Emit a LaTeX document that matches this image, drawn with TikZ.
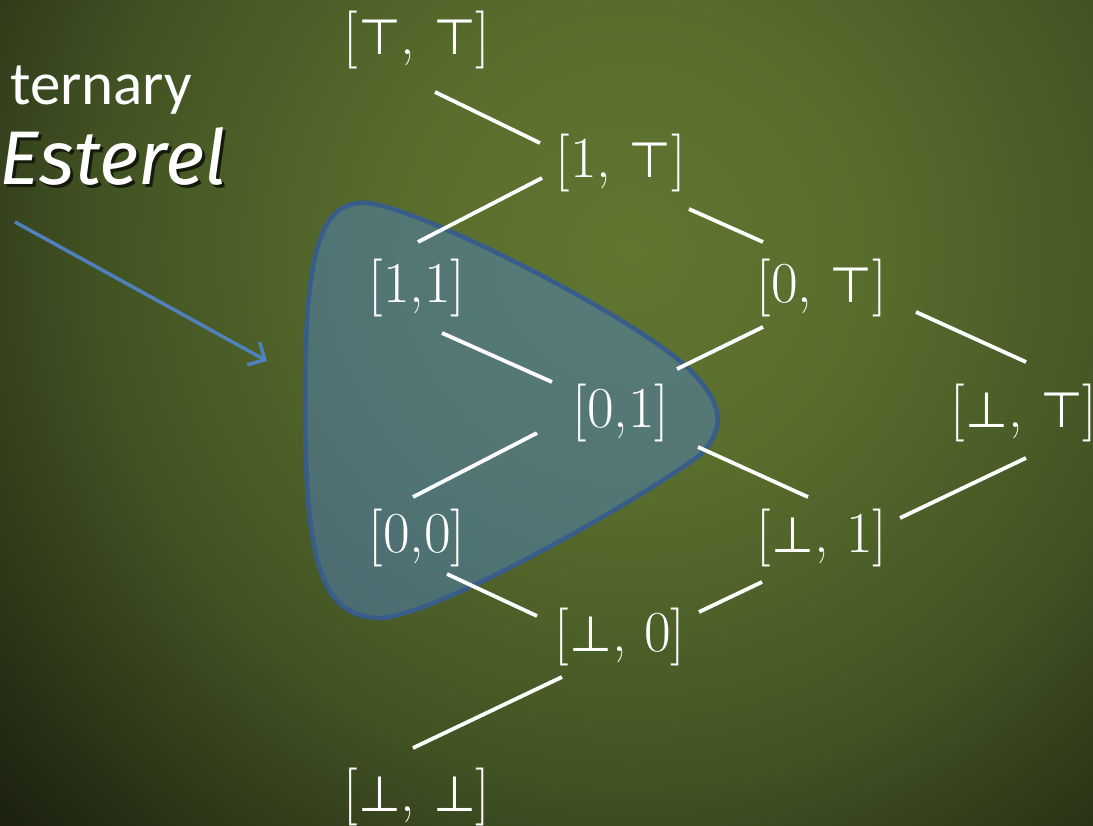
\documentclass[tikz,border=0pt]{standalone}
\usepackage{fontspec}
\newfontfamily\calfont{Carlito}
\newfontfamily\handfont{Fira Sans}
\newfontfamily\symfont{DejaVu Sans}[Scale=0.85]
\newcommand{\Tp}{{\symfont ⊤}}
\newcommand{\Bt}{{\symfont ⊥}}
\usetikzlibrary{arrows.meta,calc}
\definecolor{bgA}{RGB}{98,118,50}
\definecolor{bgB}{RGB}{88,108,45}
\definecolor{bgC}{RGB}{66,83,35}
\definecolor{bgD}{RGB}{24,28,14}
\definecolor{blobfill}{RGB}{79,129,189}
\definecolor{blobline}{RGB}{56,93,138}
\definecolor{arrowblue}{RGB}{79,129,189}
\definecolor{shadowc}{RGB}{22,26,12}
\pgfdeclareradialshading{bgshade}{\pgfpoint{0bp}{0bp}}{color(0bp)=(bgA); color(7bp)=(bgB); color(15bp)=(bgC); color(25bp)=(bgD); color(50bp)=(bgD)}
\begin{document}
\begin{tikzpicture}[x=1pt,y=1pt,
  lbl/.style={text=white,font=\fontsize{58}{60}\selectfont,inner sep=0pt},
  edge/.style={white,line width=3.8pt},
  word/.style={text=white,inner sep=0pt,anchor=base west}]
\useasboundingbox (0,0) rectangle (1093,-826);
\begin{scope}
  \clip (0,0) rectangle (1093,-826);
  \fill[bgD] (0,0) rectangle (1093,-826);
  \shade[shading=bgshade] (630,-250) circle (880);
\end{scope}
% blob
\path[fill=blobfill,fill opacity=0.5] (305,-400) .. controls (305,-250) and (320,-200) .. (367,-203)
  .. controls (420,-207) and (640,-320) .. (690,-370)
  .. controls (725,-405) and (725,-430) .. (700,-455)
  .. controls (640,-500) and (430,-620) .. (377,-618)
  .. controls (320,-615) and (305,-560) .. cycle;
\draw[blobline,line width=4.5pt] (305,-400) .. controls (305,-250) and (320,-200) .. (367,-203)
  .. controls (420,-207) and (640,-320) .. (690,-370)
  .. controls (725,-405) and (725,-430) .. (700,-455)
  .. controls (640,-500) and (430,-620) .. (377,-618)
  .. controls (320,-615) and (305,-560) .. cycle;
% texts at left
\node[word,font=\calfont\fontsize{61}{64}\selectfont] (tern) at (10,-105) {ternary};
\node[word,font=\handfont\itshape\fontsize{76}{80}\selectfont] (est) at (-1,-185)
  {\rlap{\textcolor{shadowc}{\hspace{3pt}\raisebox{-3pt}{Esterel}}}Esterel};
\coordinate (arrS) at (15,-222);
\coordinate (arrE) at (267,-361);
\draw[arrowblue,line width=3.5pt,-{Straight Barb[length=13pt,width=26pt]}] (arrS) -- (arrE);
% lattice nodes
\node[lbl] (TT) at (417,-40) {[\Tp, \Tp]};
\node[lbl] (1T) at (621,-163) {[1, \Tp]};
\node[lbl] (11) at (417,-288) {[1,1]};
\node[lbl] (0T) at (822,-288) {[0, \Tp]};
\node[lbl] (01) at (621,-413) {[0,1]};
\node[lbl] (BT) at (1024,-413) {[\Bt, \Tp]};
\node[lbl] (00) at (417,-538) {[0,0]};
\node[lbl] (B1) at (822,-538) {[\Bt, 1]};
\node[lbl] (B0) at (620,-637) {[\Bt, 0]};
\node[lbl] (BB) at (417,-797) {[\Bt, \Bt]};
% edges
\draw[edge] ($(TT)+(18,-52)$) -- ($(1T)+(-81,20)$);
\draw[edge] ($(1T)+(-79,-15)$) -- ($(11)+(1,46)$);
\draw[edge] ($(1T)+(68,-46)$) -- ($(0T)+(-59,46)$);
\draw[edge] ($(11)+(25,-45)$) -- ($(01)+(-69,31)$);
\draw[edge] ($(0T)+(-59,-39)$) -- ($(01)+(56,44)$);
\draw[edge] ($(0T)+(94,-24)$) -- ($(BT)+(2,51)$);
\draw[edge] ($(01)+(-84,-20)$) -- ($(00)+(-4,41)$);
\draw[edge] ($(01)+(77,-34)$) -- ($(B1)+(-14,41)$);
\draw[edge] ($(BT)+(2,-45)$) -- ($(B1)+(78,20)$);
\draw[edge] ($(00)+(30,-36)$) -- ($(B0)+(-83,21)$);
\draw[edge] ($(B1)+(-60,-44)$) -- ($(B0)+(79,25)$);
\draw[edge] ($(B0)+(-58,-40)$) -- ($(BB)+(-4,49)$);
\end{tikzpicture}
\end{document}
